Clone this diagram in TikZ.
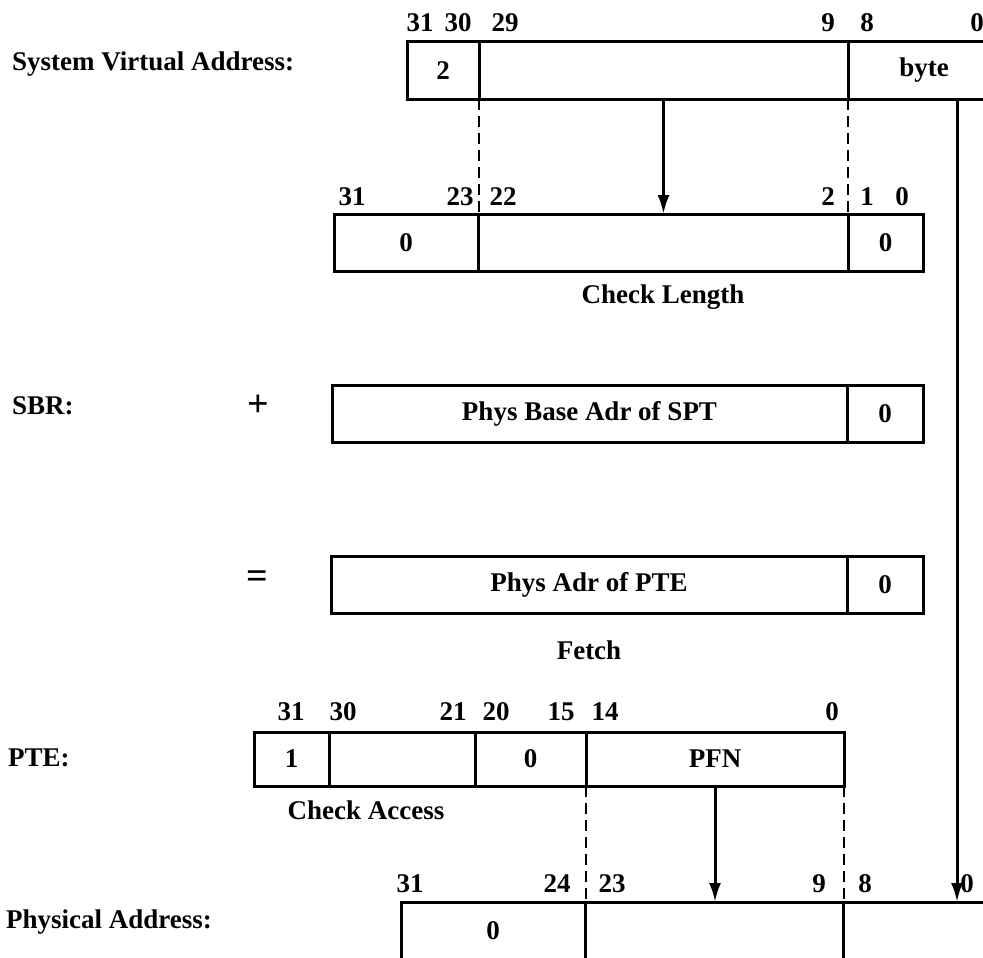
\documentclass[tikz,border=0pt]{standalone}
\usepackage{fontspec}
\setmainfont{Liberation Serif}
\usetikzlibrary{arrows.meta, positioning}

\begin{document}
\begin{tikzpicture}[
    x=1pt, y=-1pt,
    every node/.style={font=\fontsize{27}{30}\selectfont\bfseries},
    field/.style={draw=black, line width=3pt, anchor=north west, inner sep=0pt, outer sep=0pt,
                  minimum height=57pt},
    bitno/.style={inner sep=0pt},
    regname/.style={anchor=west, inner sep=0pt},
    opsign/.style={inner sep=0pt, font=\fontsize{38}{40}\selectfont\bfseries},
    note/.style={inner sep=0pt},
    line/.style={draw=black, line width=3pt, -{Latex[length=19pt,width=12pt]}},
    split/.style={draw=black, line width=2.6pt, dash pattern=on 11pt off 6pt}
]
\useasboundingbox (0,0) rectangle (983,958);
\clip (0,0) rectangle (983,958);

% -------- Register names --------
\node[regname] (svaname) at (12,64)  {System Virtual Address:};
\node[regname] (sbrname) at (12,406) {SBR:};
\node[regname] (ptename) at (8,758)  {PTE:};
\node[regname] (paname)  at (6,922)  {Physical Address:};
\node[opsign] (plus)   at (258,406) {+};
\node[opsign] (equals) at (257,580) {=};

% -------- System virtual address --------
\node[field, minimum width=72pt]                        (sva-sign) at (407,42) {2};
\node[field, minimum width=369pt, right=0pt of sva-sign] (sva-vpn)  {};
\node[field, minimum width=152pt, right=0pt of sva-vpn]  (sva-byte) {byte};

% -------- Longword index into SPT --------
\node[field, minimum width=144pt]                       (len-hi)  at (334,214) {0};
\node[field, minimum width=370pt, right=0pt of len-hi]  (len-idx) {};
\node[field, minimum width=75pt,  right=0pt of len-idx] (len-lo)  {0};
\node[note, below=14pt of len-idx] (chklen) {Check Length};

% -------- SBR and PTE address --------
\node[field, minimum width=515pt]                       (sbr-base) at (332,385) {Phys Base Adr of SPT};
\node[field, minimum width=76pt, right=0pt of sbr-base] (sbr-lo)   {0};
\node[field, minimum width=516pt]                       (ptea-adr) at (331,556) {Phys Adr of PTE};
\node[field, minimum width=76pt, right=0pt of ptea-adr] (ptea-lo)  {0};
\node[note, below=28pt of ptea-adr] (fetch) {Fetch};

% -------- PTE --------
\node[field, minimum height=54pt, minimum width=75pt]                         (pte-v)    at (254,732) {1};
\node[field, minimum height=54pt, minimum width=146pt, right=0pt of pte-v]    (pte-prot) {};
\node[field, minimum height=54pt, minimum width=111pt, right=0pt of pte-prot] (pte-zero) {0};
\node[field, minimum height=54pt, minimum width=258pt, right=0pt of pte-zero] (pte-pfn)  {PFN};
\node[note] (chkacc) at (366,810) {Check Access};

% -------- Physical address --------
\node[field, minimum width=184pt]                       (pa-hi)   at (401,902) {0};
\node[field, minimum width=258pt, right=0pt of pa-hi]   (pa-pfn)  {};
\node[field, minimum width=160pt, right=0pt of pa-pfn]  (pa-byte) {};

% -------- Bit numbers --------
\foreach \t/\x in {31/420, 30/458, 29/505, 9/828, 8/867, 0/977}
  \node[bitno] (sva-b\t) at (\x,23) {\t};
\foreach \t/\x in {31/352, 23/460, 22/503, 2/828, 1/867, 0/902}
  \node[bitno] (len-b\t) at (\x,197) {\t};
\foreach \t/\x in {31/291, 30/343, 21/453, 20/496, 15/561, 14/605, 0/832}
  \node[bitno] (pte-b\t) at (\x,712) {\t};
\foreach \t/\x in {31/410, 24/557, 23/612, 9/819, 8/865, 0/967}
  \node[bitno] (pa-b\t) at (\x,884) {\t};

% -------- Field boundaries carried down --------
\draw[split] (sva-sign.south east) -- (sva-sign.south east |- len-hi.north east);
\draw[split] (sva-vpn.south east)  -- (sva-vpn.south east |- len-idx.north east);
\draw[split] (pte-zero.south east) -- (pte-zero.south east |- pa-hi.north east);
\draw[split] (pte-pfn.south east)  -- (pte-pfn.south east |- pa-pfn.north east);

% -------- Data flow --------
\coordinate (bytetap) at (957,0);
\draw[line] (sva-vpn.south) -- (sva-vpn.south |- len-idx.north);
\draw[line] (pte-pfn.south) -- (pte-pfn.south |- pa-pfn.north);
\draw[line] (sva-byte.south -| bytetap) -- (pa-byte.north -| bytetap);

\end{tikzpicture}
\end{document}
